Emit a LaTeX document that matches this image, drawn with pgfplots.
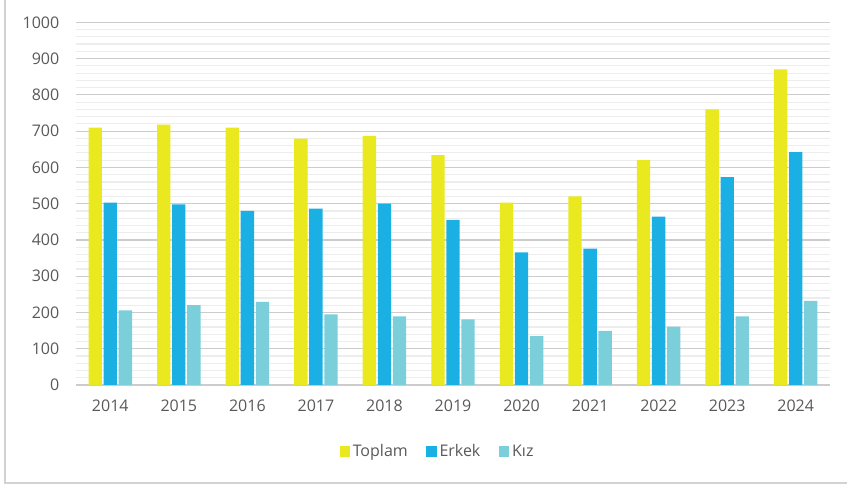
\documentclass[border=0pt]{standalone}
\usepackage{pgfplots}
\pgfplotsset{compat=1.18}
\usepackage{fontspec}
\setmainfont{Open Sans}
\definecolor{cT}{RGB}{234,232,30}
\definecolor{cE}{RGB}{27,176,228}
\definecolor{cK}{RGB}{122,207,219}
\definecolor{txt}{RGB}{89,89,89}
\begin{document}
\begin{tikzpicture}[x=1pt,y=1pt]
\useasboundingbox (0,0) rectangle (635.25,363.75);
\draw[gray!35, line width=1.3pt] (3.8,370) -- (3.8,1.6) -- (640,1.6);
\begin{axis}[
  at={(57pt,75pt)}, anchor=south west,
  width=565.5pt, height=272pt, scale only axis,
  xmin=-0.5, xmax=10.5, ymin=0, ymax=1000,
  ytick={0,100,...,1000}, minor y tick num=4,
  xtick={0,...,10},
  xticklabels={2014,2015,2016,2017,2018,2019,2020,2021,2022,2023,2024},
  ymajorgrids, yminorgrids,
  major grid style={color=black!20, line width=0.9pt},
  minor grid style={color=black!7, line width=0.9pt},
  axis x line*=bottom, axis y line*=left,
  x axis line style={color=black!20, line width=1.2pt},
  y axis line style={draw=none},
  major tick length=0pt, minor tick length=0pt,
  tick label style={font=\fontsize{12}{14}\selectfont, text=txt},
  yticklabel style={xshift=-9pt},
  xticklabel style={yshift=-8pt},
  /pgf/number format/assume math mode=true,
  /pgf/number format/1000 sep={},
  ybar=1.3pt, bar width=10pt,
  legend style={at={(axis description cs:0.48,0)}, yshift=-50pt, anchor=center,
    draw=none, fill=none, legend columns=-1,
    font=\fontsize{12}{14}\selectfont, text=txt,
    /tikz/every even column/.append style={column sep=12pt}},
  leg/.style={legend image code/.code={\fill[##1] (0pt,-3.8pt) rectangle (7.8pt,4pt);}},
]
\addplot[fill=cT, draw=none, leg] coordinates {(0,710) (1,718) (2,710) (3,679) (4,687) (5,634) (6,503) (7,520) (8,620) (9,760) (10,870)};
\addplot[fill=cE, draw=none, leg] coordinates {(0,503) (1,498) (2,480) (3,486) (4,500) (5,455) (6,366) (7,376) (8,464) (9,573) (10,642)};
\addplot[fill=cK, draw=none, leg] coordinates {(0,206) (1,220) (2,229) (3,195) (4,189) (5,181) (6,135) (7,149) (8,161) (9,189) (10,232)};
\legend{Toplam, Erkek, Kız}
\end{axis}
\end{tikzpicture}
\end{document}
